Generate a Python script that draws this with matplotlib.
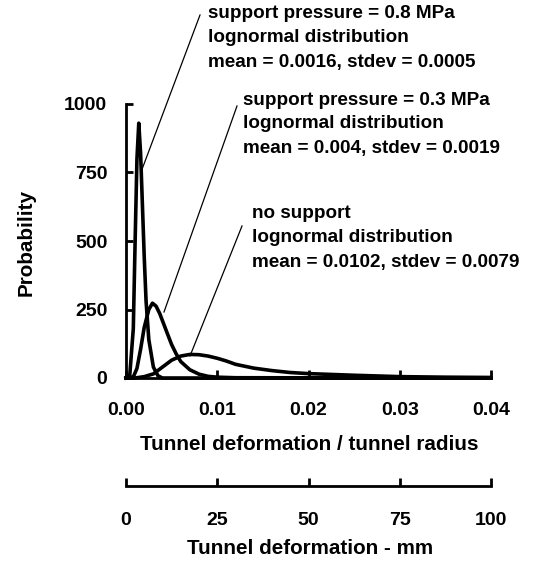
import matplotlib
matplotlib.use("Agg")
import matplotlib.pyplot as plt

# ---- data ----
x_08 = [0.0, 0.0004, 0.0008, 0.0010, 0.0012, 0.0014, 0.0016, 0.0018, 0.0020, 0.0022, 0.0025, 0.0030, 0.0035, 0.0040, 0.0400]
y_08 = [0, 5, 180, 500, 800, 930, 820, 630, 440, 280, 140, 40, 8, 0, 0]

x_03 = [0.0, 0.0008, 0.0012, 0.0016, 0.0020, 0.0025, 0.0029, 0.0033, 0.0037, 0.0041, 0.0045, 0.0050, 0.0055, 0.0060, 0.0070, 0.0080, 0.0090, 0.0100, 0.0120, 0.0400]
y_03 = [0, 4, 35, 105, 185, 250, 273, 262, 235, 200, 165, 122, 88, 60, 30, 14, 6, 3, 1, 0]

x_ns = [0.0, 0.001, 0.002, 0.003, 0.004, 0.005, 0.006, 0.007, 0.008, 0.009, 0.010, 0.011, 0.012, 0.014, 0.016, 0.018, 0.020, 0.025, 0.030, 0.035, 0.040]
y_ns = [0, 0, 5, 15, 40, 65, 80, 86, 85, 80, 72, 62, 50, 36, 27, 20, 16, 10, 5, 3, 2]

y_ticks = [0, 250, 500, 750, 1000]
x_ticks = [0.00, 0.01, 0.02, 0.03, 0.04]
x_tick_labels = ["0.00", "0.01", "0.02", "0.03", "0.04"]
mm_ticks = [0, 25, 50, 75, 100]

label_08 = ["support pressure = 0.8 MPa", "lognormal distribution", "mean = 0.0016, stdev = 0.0005"]
label_03 = ["support pressure = 0.3 MPa", "lognormal distribution", "mean = 0.004, stdev = 0.0019"]
label_ns = ["no support", "lognormal distribution", "mean = 0.0102, stdev = 0.0079"]

W, H = 543, 565
FONT = dict(family="Liberation Sans", weight="bold")
FS_TICK = 14
FS_ANN = 13.6
FS_LAB = 14.9

fig = plt.figure(figsize=(W / 100, H / 100), dpi=100)
fig.patch.set_facecolor("white")

def fx(px):
    return px / W

def fy(py):
    return 1 - py / H

# main axes: x 126..491 px, y 104..378 px
ax = fig.add_axes([fx(126), fy(378), fx(491) - fx(126), fy(104) - fy(378)])
ax.set_xlim(0, 0.04)
ax.set_ylim(0, 1000)
ax.plot(x_ns, y_ns, color="black", lw=2.6, solid_joinstyle="round", clip_on=False)
ax.plot(x_03, y_03, color="black", lw=2.6, solid_joinstyle="round", clip_on=False)
ax.plot(x_08, y_08, color="black", lw=2.6, solid_joinstyle="round", clip_on=False)

for s in ("top", "right"):
    ax.spines[s].set_visible(False)
for s in ("left", "bottom"):
    ax.spines[s].set_linewidth(2.0)
ax.set_yticks(y_ticks)
ax.set_yticklabels([str(v) for v in y_ticks], fontdict=dict(size=FS_TICK, **FONT))
ax.set_xticks(x_ticks)
ax.set_xticklabels(x_tick_labels, fontdict=dict(size=FS_TICK, **FONT))
ax.tick_params(axis="y", direction="in", length=5, width=2, pad=13.5)
ax.tick_params(axis="x", direction="in", length=6, width=2, pad=17.5)
ax.patch.set_alpha(0)

# second (mm) axis
ax2 = fig.add_axes([fx(126), fy(486), fx(491) - fx(126), 0.0001])
ax2.set_xlim(0, 100)
ax2.set_ylim(0, 1)
for s in ("top", "right", "left"):
    ax2.spines[s].set_visible(False)
ax2.spines["bottom"].set_linewidth(2.0)
ax2.set_yticks([])
ax2.set_xticks(mm_ticks)
ax2.set_xticklabels([str(v) for v in mm_ticks], fontdict=dict(size=FS_TICK, **FONT))
ax2.tick_params(axis="x", direction="in", length=6, width=2, pad=18.5)
ax2.patch.set_alpha(0)

# axis titles
fig.text(fx(309), fy(444), "Tunnel deformation / tunnel radius", ha="center", va="center", size=FS_LAB, **FONT)
fig.text(fx(310), fy(548), "Tunnel deformation - mm", ha="center", va="center", size=FS_LAB, **FONT)
fig.text(fx(26), fy(242), "Probability", ha="center", va="center", rotation=90, size=FS_LAB, **FONT)

# annotation text blocks
def block(x0, y0, lines, dy=24):
    for i, t in enumerate(lines):
        fig.text(fx(x0), fy(y0 + i * dy), t, ha="left", va="center", size=FS_ANN, **FONT)

block(208, 14, label_08)
block(243, 100, label_03)
block(252, 213, label_ns, dy=24.5)

# leader lines (in figure pixel coordinates)
def leader(x1, y1, x2, y2):
    fig.add_artist(plt.Line2D([fx(x1), fx(x2)], [fy(y1), fy(y2)], color="black", lw=0.9,
                              transform=fig.transFigure))

leader(200, 15, 141, 172)
leader(237, 106, 164, 312)
leader(242, 226, 190, 356)

fig.savefig("out.png", dpi=100, facecolor="white")
